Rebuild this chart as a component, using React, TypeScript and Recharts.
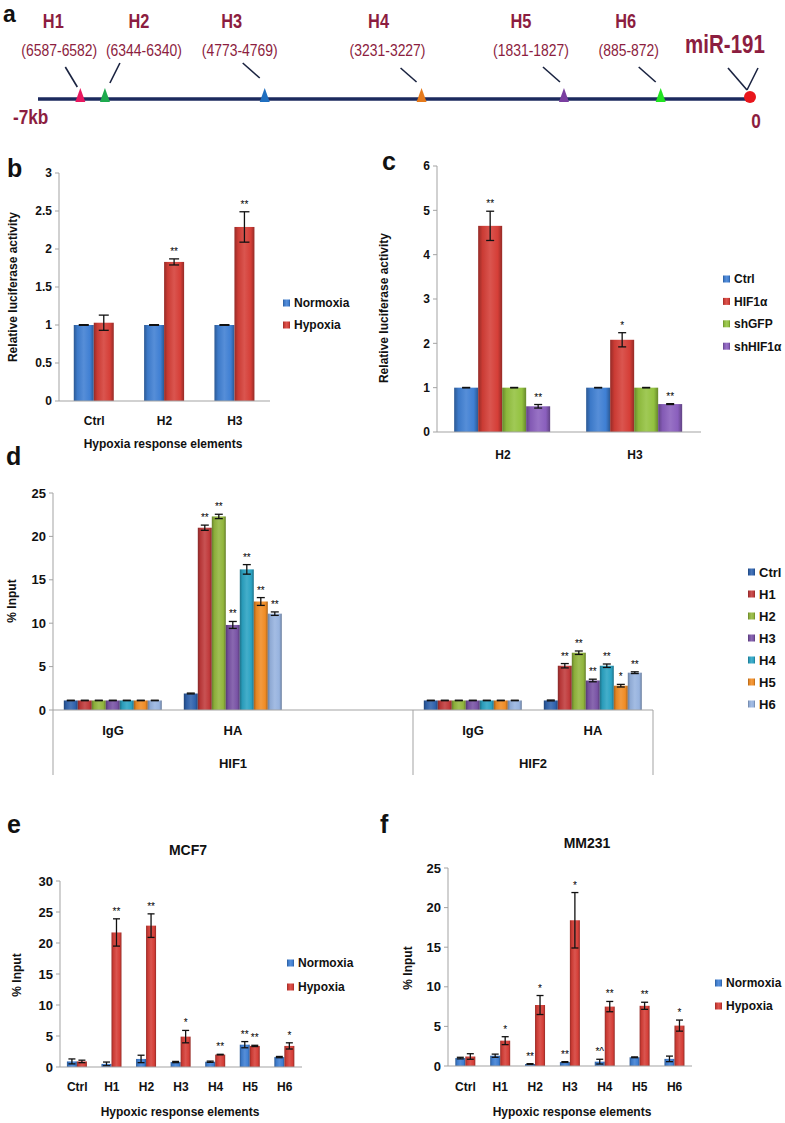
import React from "react";
import {
  BarChart,
  Bar,
  XAxis,
  YAxis,
  ErrorBar,
  ScatterChart,
  Scatter,
  ReferenceLine,
} from "recharts";

const FONT = "'Liberation Sans', Arial, Helvetica, sans-serif";
const INK = "#111111";
const AXIS = "#a3a3a3";
const MAROON = "#8c1d40";

// ---- a: HRE sites upstream of miR-191 (bp from the gene) ----
const HRE_NAMES = ["H1", "H2", "H3", "H4", "H5", "H6", "miR-191"];
const HRE_RANGES = ["(6587-6582)", "(6344-6340)", "(4773-4769)", "(3231-3227)", "(1831-1827)", "(885-872)", ""];
const HRE_SITES = [-6584, -6342, -4771, -3229, -1829, -878, 0];

// ---- b ----
const B_CATEGORIES = ["Ctrl", "H2", "H3"];
const B_NORMOXIA = [1, 1, 1];
const B_NORMOXIA_ERR = [0.005, 0.005, 0.005];
const B_HYPOXIA = [1.03, 1.83, 2.29];
const B_HYPOXIA_ERR = [0.1, 0.04, 0.2];
const B_HYPOXIA_SIG = ["", "**", "**"];
const B_TICKS = [0, 0.5, 1, 1.5, 2, 2.5, 3];

// ---- c ----
const C_CATEGORIES = ["H2", "H3"];
const C_CTRL = [1, 1];
const C_CTRL_ERR = [0.005, 0.005];
const C_HIF1A = [4.65, 2.08];
const C_HIF1A_ERR = [0.33, 0.16];
const C_HIF1A_SIG = ["**", "*"];
const C_SHGFP = [1, 1];
const C_SHGFP_ERR = [0.005, 0.005];
const C_SHHIF1A = [0.58, 0.63];
const C_SHHIF1A_ERR = [0.04, 0.01];
const C_SHHIF1A_SIG = ["**", "**"];
const C_TICKS = [0, 1, 2, 3, 4, 5, 6];

// ---- d ----
const D_GROUPS = ["HIF1", "HIF1", "HIF1", "HIF2", "HIF2"];
const D_LABELS = ["IgG", "HA", "", "IgG", "HA"];
const D_CTRL = [1.1, 1.9, null, 1.1, 1.1];
const D_CTRL_ERR = [0.03, 0.05, null, 0.03, 0.05];
const D_H1 = [1.1, 21.0, null, 1.1, 5.1];
const D_H1_ERR = [0.03, 0.3, null, 0.03, 0.25];
const D_H2 = [1.1, 22.3, null, 1.1, 6.6];
const D_H2_ERR = [0.03, 0.25, null, 0.03, 0.2];
const D_H3 = [1.1, 9.8, null, 1.1, 3.4];
const D_H3_ERR = [0.03, 0.4, null, 0.03, 0.15];
const D_H4 = [1.1, 16.2, null, 1.1, 5.1];
const D_H4_ERR = [0.03, 0.55, null, 0.03, 0.2];
const D_H5 = [1.1, 12.5, null, 1.1, 2.8];
const D_H5_ERR = [0.03, 0.45, null, 0.03, 0.15];
const D_H6 = [1.1, 11.1, null, 1.1, 4.3];
const D_H6_ERR = [0.03, 0.2, null, 0.03, 0.1];
const D_SIG = ["", "**", "", "", "**"];
const D_H5_SIG = ["", "**", "", "", "*"];
const D_TICKS = [0, 5, 10, 15, 20, 25];

// ---- e: MCF7 ----
const HRE_CATEGORIES = ["Ctrl", "H1", "H2", "H3", "H4", "H5", "H6"];
const E_NORMOXIA = [0.9, 0.5, 1.3, 0.8, 0.85, 3.6, 1.6];
const E_NORMOXIA_ERR = [0.4, 0.3, 0.6, 0.1, 0.1, 0.5, 0.1];
const E_NORMOXIA_SIG = ["", "", "", "", "", "**", ""];
const E_HYPOXIA = [0.9, 21.7, 22.8, 4.9, 2.0, 3.4, 3.4];
const E_HYPOXIA_ERR = [0.2, 2.2, 1.9, 1.0, 0.05, 0.1, 0.5];
const E_HYPOXIA_SIG = ["", "**", "**", "*", "**", "**", "*"];
const E_TICKS = [0, 5, 10, 15, 20, 25, 30];

// ---- f: MM231 ----
const F_NORMOXIA = [1.0, 1.3, 0.25, 0.5, 0.55, 1.1, 0.9];
const F_NORMOXIA_ERR = [0.1, 0.2, 0.05, 0.05, 0.3, 0.05, 0.35];
const F_NORMOXIA_SIG = ["", "", "**", "**", "*^", "", ""];
const F_HYPOXIA = [1.2, 3.2, 7.7, 18.4, 7.5, 7.6, 5.1];
const F_HYPOXIA_ERR = [0.35, 0.5, 1.2, 3.5, 0.65, 0.45, 0.7];
const F_HYPOXIA_SIG = ["", "*", "*", "*", "**", "**", "*"];
const F_TICKS = [0, 5, 10, 15, 20, 25];

// colours and annotation layout
const BLUE = "#3f7fd3";
const RED = "#d53e37";
const HRE_COLORS = ["#e8185f", "#1daa4e", "#1f6fc0", "#e57a1c", "#7a3ea0", "#22e322", "#e8161c"];
const NAME_DX = [-27, 34, -33, -43, -43, -35, -25];
const RANGE_DX = [-21, 39, -25, -34, -33, -32, 0];
const LEADERS = [
  [[-15, -32, -3, -12]],
  [[15, -36, 5, -16]],
  [[-22, -36, -5, -21]],
  [[-21, -31, -5, -17]],
  [[-21, -32, -4, -17]],
  [[-22, -32, -5, -17]],
  [[-22, -31, -3, -9], [8, -31, -3, -9]],
];
const D_COLORS = ["#2f62ad", "#c03a3b", "#92b63d", "#7953a5", "#2ba3c3", "#f08c25", "#97b3df"];

type Series = {
  key: string;
  name: string;
  color: string;
  values: (number | null)[];
  errors: (number | null)[];
  sig?: string[];
};

type Frame = {
  left: number;
  top: number;
  width: number;
  height: number;
  marginTop: number;
  marginRight: number;
  yWidth: number;
  xHeight: number;
};

const B_SERIES: Series[] = [
  { key: "norm", name: "Normoxia", color: BLUE, values: B_NORMOXIA, errors: B_NORMOXIA_ERR },
  { key: "hyp", name: "Hypoxia", color: RED, values: B_HYPOXIA, errors: B_HYPOXIA_ERR, sig: B_HYPOXIA_SIG },
];
const C_SERIES: Series[] = [
  { key: "ctrl", name: "Ctrl", color: BLUE, values: C_CTRL, errors: C_CTRL_ERR },
  { key: "hif", name: "HIF1α", color: RED, values: C_HIF1A, errors: C_HIF1A_ERR, sig: C_HIF1A_SIG },
  { key: "shgfp", name: "shGFP", color: "#93c23f", values: C_SHGFP, errors: C_SHGFP_ERR },
  { key: "shhif", name: "shHIF1α", color: "#8a5fbd", values: C_SHHIF1A, errors: C_SHHIF1A_ERR, sig: C_SHHIF1A_SIG },
];
const D_SERIES: Series[] = [
  { key: "ctrl", name: "Ctrl", color: D_COLORS[0], values: D_CTRL, errors: D_CTRL_ERR },
  { key: "h1", name: "H1", color: D_COLORS[1], values: D_H1, errors: D_H1_ERR, sig: D_SIG },
  { key: "h2", name: "H2", color: D_COLORS[2], values: D_H2, errors: D_H2_ERR, sig: D_SIG },
  { key: "h3", name: "H3", color: D_COLORS[3], values: D_H3, errors: D_H3_ERR, sig: D_SIG },
  { key: "h4", name: "H4", color: D_COLORS[4], values: D_H4, errors: D_H4_ERR, sig: D_SIG },
  { key: "h5", name: "H5", color: D_COLORS[5], values: D_H5, errors: D_H5_ERR, sig: D_H5_SIG },
  { key: "h6", name: "H6", color: D_COLORS[6], values: D_H6, errors: D_H6_ERR, sig: D_SIG },
];
const E_SERIES: Series[] = [
  { key: "norm", name: "Normoxia", color: BLUE, values: E_NORMOXIA, errors: E_NORMOXIA_ERR, sig: E_NORMOXIA_SIG },
  { key: "hyp", name: "Hypoxia", color: RED, values: E_HYPOXIA, errors: E_HYPOXIA_ERR, sig: E_HYPOXIA_SIG },
];
const F_SERIES: Series[] = [
  { key: "norm", name: "Normoxia", color: BLUE, values: F_NORMOXIA, errors: F_NORMOXIA_ERR, sig: F_NORMOXIA_SIG },
  { key: "hyp", name: "Hypoxia", color: RED, values: F_HYPOXIA, errors: F_HYPOXIA_ERR, sig: F_HYPOXIA_SIG },
];

// plot areas: b 59..270 x 173..401, c 437..701 x 166..432, d 53..653 x 493..710,
// e 60..302 x 881..1067, f 448..692 x 868..1066
const B_FRAME: Frame = { left: 0, top: 160, width: 272, height: 276, marginTop: 13, marginRight: 2, yWidth: 59, xHeight: 35 };
const C_FRAME: Frame = { left: 380, top: 150, width: 325, height: 317, marginTop: 16, marginRight: 4, yWidth: 57, xHeight: 35 };
const D_FRAME: Frame = { left: 0, top: 480, width: 660, height: 300, marginTop: 13, marginRight: 7, yWidth: 53, xHeight: 70 };
const E_FRAME: Frame = { left: 0, top: 870, width: 305, height: 232, marginTop: 11, marginRight: 3, yWidth: 60, xHeight: 35 };
const F_FRAME: Frame = { left: 390, top: 860, width: 305, height: 241, marginTop: 8, marginRight: 3, yWidth: 58, xHeight: 35 };

const D_BAND = (D_FRAME.width - D_FRAME.marginRight - D_FRAME.yWidth) / D_LABELS.length;

function mix(hex: string, amt: number) {
  const n = parseInt(hex.slice(1), 16);
  const ch = [(n >> 16) & 255, (n >> 8) & 255, n & 255].map((c) =>
    Math.round(amt >= 0 ? c + (255 - c) * amt : c * (1 + amt))
  );
  return "#" + ch.map((c) => c.toString(16).padStart(2, "0")).join("");
}

const gradId = (hex: string) => "grad-" + hex.slice(1);

const ALL_COLORS = Array.from(new Set([BLUE, RED, ...C_SERIES.map((s) => s.color), ...D_COLORS]));

function Gradients() {
  return (
    <svg width={0} height={0} style={{ position: "absolute" }}>
      <defs>
        {ALL_COLORS.map((c) => (
          <linearGradient key={c} id={gradId(c)} x1="0" y1="0" x2="1" y2="0">
            <stop offset="0" stopColor={mix(c, -0.3)} />
            <stop offset="0.18" stopColor={mix(c, -0.05)} />
            <stop offset="0.5" stopColor={mix(c, 0.12)} />
            <stop offset="0.82" stopColor={c} />
            <stop offset="1" stopColor={mix(c, -0.3)} />
          </linearGradient>
        ))}
      </defs>
    </svg>
  );
}

function buildRows(categories: string[], series: Series[]) {
  return categories.map((cat, i) => {
    const row: Record<string, any> = { cat: i + ":" + cat, idx: i };
    series.forEach((s) => {
      row[s.key] = s.values[i];
      row[s.key + "Err"] = s.errors[i];
      row[s.key + "Sig"] = s.sig ? s.sig[i] : "";
    });
    return row;
  });
}

function barShape(s: Series) {
  return (props: any) => {
    const { x, y, width, height, payload } = props;
    const v = payload ? payload[s.key] : null;
    if (v == null || !(height > 0)) return <g />;
    const e = payload[s.key + "Err"] || 0;
    const sig = payload[s.key + "Sig"];
    const errTop = y - (e / v) * height;
    return (
      <g>
        <rect x={x} y={y} width={width} height={height} fill={`url(#${gradId(s.color)})`} />
        {sig ? (
          <text x={x + width / 2} y={errTop - 4} textAnchor="middle" fontSize={10} fontFamily={FONT} fill="#000">
            {sig}
          </text>
        ) : null}
      </g>
    );
  };
}

const categoryTick = (labels: string[], dy: number, fontSize: number) => (props: any) => (
  <text x={props.x} y={props.y + dy} textAnchor="middle" fontSize={fontSize} fontWeight={700} fontFamily={FONT} fill={INK}>
    {labels[props.index]}
  </text>
);

const HifTick = (props: any) => {
  const { x, y, index } = props;
  const g = D_GROUPS[index];
  const first = D_GROUPS.indexOf(g);
  const last = D_GROUPS.lastIndexOf(g);
  return (
    <g>
      <text x={x} y={y + 24.5} textAnchor="middle" fontSize={13} fontWeight={700} fontFamily={FONT} fill={INK}>
        {D_LABELS[index]}
      </text>
      {index === first ? (
        <g>
          <line x1={x - D_BAND / 2} x2={x - D_BAND / 2} y1={y} y2={y + 65} stroke={AXIS} />
          <text x={x + ((last - first) / 2) * D_BAND} y={y + 57.5} textAnchor="middle" fontSize={13} fontWeight={700} fontFamily={FONT} fill={INK}>
            {g}
          </text>
        </g>
      ) : null}
      {index === D_GROUPS.length - 1 ? (
        <line x1={x + D_BAND / 2} x2={x + D_BAND / 2} y1={y} y2={y + 65} stroke={AXIS} />
      ) : null}
    </g>
  );
};

function GroupedBars({
  frame,
  categories,
  series,
  ticks,
  gap,
  tickFont,
  errWidth,
  xTick,
}: {
  frame: Frame;
  categories: string[];
  series: Series[];
  ticks: number[];
  gap: string;
  tickFont: number;
  errWidth: number;
  xTick: any;
}) {
  const rows = buildRows(categories, series);
  return (
    <div style={{ position: "absolute", left: frame.left, top: frame.top }}>
      <BarChart
        width={frame.width}
        height={frame.height}
        data={rows}
        margin={{ top: frame.marginTop, right: frame.marginRight, bottom: 0, left: 0 }}
        barCategoryGap={gap}
        barGap={0}
      >
        <XAxis
          dataKey="cat"
          height={frame.xHeight}
          interval={0}
          axisLine={{ stroke: AXIS }}
          tickLine={false}
          tickSize={0}
          tickMargin={0}
          tick={xTick}
        />
        <YAxis
          width={frame.yWidth}
          domain={[ticks[0], ticks[ticks.length - 1]]}
          ticks={ticks}
          interval={0}
          axisLine={{ stroke: AXIS }}
          tickLine={{ stroke: AXIS }}
          tickSize={4}
          tickMargin={3}
          tick={{ fill: INK, fontSize: tickFont, fontWeight: 700, fontFamily: FONT }}
        />
        {series.map((s) => (
          <Bar key={s.key} dataKey={s.key} name={s.name} fill={s.color} isAnimationActive={false} shape={barShape(s)}>
            <ErrorBar dataKey={s.key + "Err"} width={errWidth} stroke={INK} strokeWidth={1.3} direction="y" />
          </Bar>
        ))}
      </BarChart>
    </div>
  );
}

function LegendBox({ x, y, step, items, fontSize }: { x: number; y: number; step: number; items: Series[]; fontSize: number }) {
  return (
    <g>
      {items.map((s, i) => (
        <g key={s.key}>
          <rect x={x} y={y + i * step - 3.5} width={7} height={7} fill={`url(#${gradId(s.color)})`} />
          <text x={x + 11} y={y + i * step + fontSize * 0.36} fontSize={fontSize} fontWeight={700} fontFamily={FONT} fill={INK}>
            {s.name}
          </text>
        </g>
      ))}
    </g>
  );
}

function Narrow({ x, y, size, bold, anchor, children }: any) {
  return (
    <g transform={`translate(${x},${y}) scale(0.82,1)`}>
      <text x={0} y={0} textAnchor={anchor || "middle"} fontSize={size} fontWeight={bold ? 700 : 400} fontFamily={FONT} fill={MAROON}>
        {children}
      </text>
    </g>
  );
}

const HreMarker = (props: any) => {
  const { cx, cy, payload } = props;
  const i = payload.idx;
  const isGene = i === HRE_NAMES.length - 1;
  return (
    <g>
      {LEADERS[i].map((l, k) => (
        <line key={k} x1={cx + l[0]} y1={cy + l[1]} x2={cx + l[2]} y2={cy + l[3]} stroke="#1a2340" strokeWidth={1.6} />
      ))}
      {isGene ? (
        <circle cx={cx} cy={cy - 2} r={6} fill={HRE_COLORS[i]} />
      ) : (
        <polygon points={`${cx - 5},${cy + 3} ${cx + 5},${cy + 3} ${cx},${cy - 11}`} fill={HRE_COLORS[i]} />
      )}
      <Narrow x={cx + NAME_DX[i]} y={isGene ? cy - 46 : cy - 71} size={isGene ? 25 : 20} bold>
        {payload.name}
      </Narrow>
      {payload.range ? (
        <Narrow x={cx + RANGE_DX[i]} y={cy - 43} size={17}>
          {payload.range}
        </Narrow>
      ) : null}
    </g>
  );
};

const HRE_ROWS = HRE_NAMES.map((name, i) => ({ name, range: HRE_RANGES[i], pos: HRE_SITES[i], level: 0, idx: i }));

function Title({ x, y, size, children }: any) {
  return (
    <text x={x} y={y} textAnchor="middle" fontSize={size} fontWeight={700} fontFamily={FONT} fill={INK}>
      {children}
    </text>
  );
}

function VTitle({ x, y, children }: any) {
  return (
    <text
      x={x}
      y={y}
      transform={`rotate(-90 ${x} ${y})`}
      textAnchor="middle"
      dominantBaseline="central"
      fontSize={12}
      fontWeight={700}
      fontFamily={FONT}
      fill={INK}
    >
      {children}
    </text>
  );
}

const PANEL_LETTERS: [string, number, number, number][] = [
  ["a", 3, 22, 23],
  ["b", 7, 177, 25],
  ["c", 382, 170, 25],
  ["d", 6, 465, 25],
  ["e", 7, 833, 25],
  ["f", 380, 833, 25],
];

export default function App() {
  return (
    <div style={{ position: "absolute", left: 0, top: 0, width: 785, height: 1123, background: "#fff", overflow: "hidden" }}>
      <Gradients />
      <svg width={785} height={1123} style={{ position: "absolute", left: 0, top: 0 }}>
        {PANEL_LETTERS.map(([t, x, y, size]) => (
          <text key={t} x={x} y={y} fontSize={size} fontWeight={700} fontFamily={FONT} fill={INK}>
            {t}
          </text>
        ))}
        <Narrow x={13} y={124} size={21} bold anchor="start">-7kb</Narrow>
        <Narrow x={756} y={128} size={21} bold>0</Narrow>

        <VTitle x={13} y={287}>Relative luciferase activity</VTitle>
        <Title x={163} y={448} size={12}>Hypoxia response elements</Title>
        <LegendBox x={283} y={303} step={22} items={B_SERIES} fontSize={12} />

        <VTitle x={384} y={308}>Relative luciferase activity</VTitle>
        <LegendBox x={723} y={279} step={22.4} items={C_SERIES} fontSize={12} />

        <VTitle x={12} y={601}>% Input</VTitle>
        <LegendBox x={748} y={572} step={22} items={D_SERIES} fontSize={13} />

        <Title x={188} y={855} size={14}>MCF7</Title>
        <VTitle x={17} y={975}>% Input</VTitle>
        <Title x={180} y={1116} size={12}>Hypoxic response elements</Title>
        <LegendBox x={287} y={963} step={24} items={E_SERIES} fontSize={12} />

        <Title x={587} y={848} size={14}>MM231</Title>
        <VTitle x={408} y={968}>% Input</VTitle>
        <Title x={572} y={1116} size={12}>Hypoxic response elements</Title>
        <LegendBox x={715} y={983} step={23} items={F_SERIES} fontSize={12} />
      </svg>

      <div style={{ position: "absolute", left: 0, top: 0 }}>
        <ScatterChart width={785} height={130} margin={{ top: 89, right: 35, bottom: 21, left: 38 }}>
          <XAxis type="number" dataKey="pos" domain={[-7000, 0]} hide />
          <YAxis type="number" dataKey="level" domain={[-1, 1]} hide />
          <ReferenceLine y={0} stroke="#1c2a5e" strokeWidth={3.5} />
          <Scatter data={HRE_ROWS} isAnimationActive={false} shape={HreMarker} />
        </ScatterChart>
      </div>

      <GroupedBars frame={B_FRAME} categories={B_CATEGORIES} series={B_SERIES} ticks={B_TICKS} gap="21%" tickFont={12} errWidth={5} xTick={categoryTick(B_CATEGORIES, 24, 12)} />
      <GroupedBars frame={C_FRAME} categories={C_CATEGORIES} series={C_SERIES} ticks={C_TICKS} gap="13%" tickFont={12} errWidth={4} xTick={categoryTick(C_CATEGORIES, 27, 12)} />
      <GroupedBars frame={D_FRAME} categories={D_LABELS} series={D_SERIES} ticks={D_TICKS} gap="9%" tickFont={13} errWidth={4} xTick={HifTick} />
      <GroupedBars frame={E_FRAME} categories={HRE_CATEGORIES} series={E_SERIES} ticks={E_TICKS} gap="20%" tickFont={13} errWidth={3.5} xTick={categoryTick(HRE_CATEGORIES, 24, 12)} />
      <GroupedBars frame={F_FRAME} categories={HRE_CATEGORIES} series={F_SERIES} ticks={F_TICKS} gap="21%" tickFont={13} errWidth={3.5} xTick={categoryTick(HRE_CATEGORIES, 25, 12)} />
    </div>
  );
}
